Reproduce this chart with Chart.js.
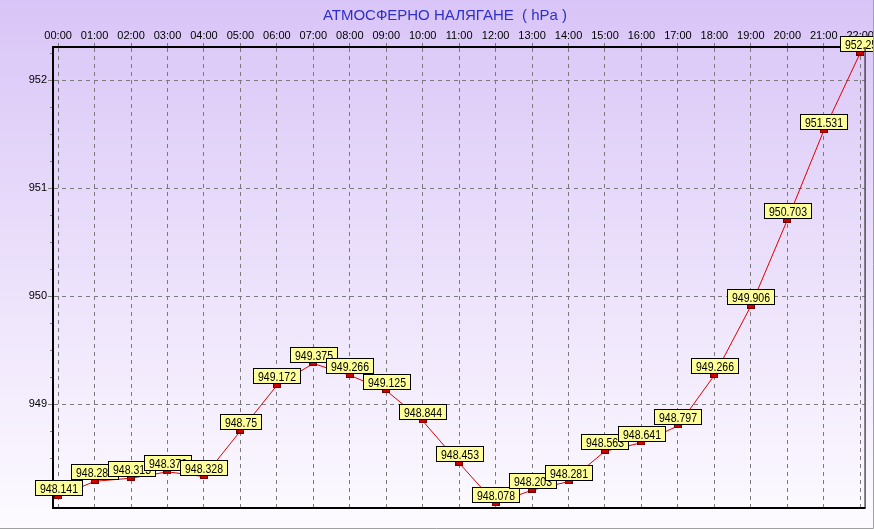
<!DOCTYPE html>
<html>
<head>
<meta charset="utf-8">
<script src="https://cdn.jsdelivr.net/npm/chart.js@4/dist/chart.umd.min.js"></script>
<style>
  html, body { margin: 0; padding: 0; background: #fff; }
  #c { display: block; }
</style>
</head>
<body>
<canvas id="c" width="874" height="529"></canvas>
<script>
// Атмосферно налягане по часове
const hours = ['00:00', '01:00', '02:00', '03:00', '04:00', '05:00', '06:00', '07:00',
  '08:00', '09:00', '10:00', '11:00', '12:00', '13:00', '14:00', '15:00', '16:00',
  '17:00', '18:00', '19:00', '20:00', '21:00', '22:00'];
const pressure = [948.141, 948.284, 948.313, 948.372, 948.328, 948.75, 949.172, 949.375,
  949.266, 949.125, 948.844, 948.453, 948.078, 948.203, 948.281, 948.563, 948.641,
  948.797, 949.266, 949.906, 950.703, 951.531, 952.25];
const yTicks = [949, 950, 951, 952];
const titleText = 'АТМОСФЕРНО НАЛЯГАНЕ  ( hPa )';

// маркер - малко червено правоъгълниче
const marker = document.createElement('canvas');
marker.width = 8; marker.height = 5;
(function () {
  const m = marker.getContext('2d');
  m.fillStyle = '#d40000';
  m.fillRect(0, 0, 8, 5);
  m.strokeStyle = '#700000';
  m.lineWidth = 1;
  m.strokeRect(0.5, 0.5, 7, 4);
})();

const decor = {
  id: 'decor',
  beforeDraw(chart) {
    const ctx = chart.ctx;
    const g = ctx.createLinearGradient(0, 0, 0, chart.height);
    g.addColorStop(0, '#d9c5f7');
    g.addColorStop(1, '#fdfbff');
    ctx.save();
    ctx.fillStyle = g;
    ctx.fillRect(0, 0, chart.width, chart.height);
    ctx.font = '15px Arial, "Liberation Sans", sans-serif';
    ctx.fillStyle = '#3030c8';
    ctx.textAlign = 'center';
    ctx.fillText(titleText, 445, 20);
    ctx.restore();
  },
  afterDraw(chart) {
    const ctx = chart.ctx, a = chart.chartArea, y = chart.scales.y;
    ctx.save();
    ctx.setLineDash([]);
    // дребни деления по оста Y
    ctx.strokeStyle = '#808080';
    ctx.lineWidth = 1;
    for (let v = 948.25; v < 952.3; v += 0.25) {
      if (Math.abs(v - Math.round(v)) < 0.01) continue;
      const py = Math.round(y.getPixelForValue(v)) + 0.5;
      ctx.beginPath(); ctx.moveTo(a.left - 3, py); ctx.lineTo(a.left - 1, py); ctx.stroke();
    }
    // дясна и долна рамка
    ctx.strokeStyle = '#000';
    ctx.lineWidth = 1;
    ctx.beginPath();
    ctx.moveTo(a.right + 0.5, a.top); ctx.lineTo(a.right + 0.5, a.bottom);
    ctx.stroke();
    ctx.lineWidth = 2;
    ctx.beginPath();
    ctx.moveTo(a.left - 1, a.bottom); ctx.lineTo(a.right + 1, a.bottom);
    ctx.stroke();
    // външна сива рамка
    ctx.strokeStyle = '#a0a0a0';
    ctx.lineWidth = 1;
    ctx.beginPath();
    ctx.moveTo(0, chart.height - 0.5); ctx.lineTo(chart.width - 0.5, chart.height - 0.5);
    ctx.lineTo(chart.width - 0.5, 0);
    ctx.stroke();
    ctx.restore();
  },
  afterDatasetsDraw(chart) {
    const ctx = chart.ctx;
    const pts = chart.getDatasetMeta(0).data;
    const sx = 0.81;
    ctx.save();
    ctx.setLineDash([]);
    ctx.font = '13px Arial, "Liberation Sans", sans-serif';
    ctx.textAlign = 'center';
    ctx.textBaseline = 'middle';
    pts.forEach((p, i) => {
      const txt = String(pressure[i]);
      const w = Math.round(ctx.measureText(txt).width * sx) + 9;
      const h = 15;
      const x0 = Math.round(p.x - w / 2) + 0.5;
      const y0 = Math.round(p.y - 2 - h) + 0.5;
      ctx.fillStyle = '#ffff99';
      ctx.fillRect(x0, y0, w, h);
      ctx.strokeStyle = '#000';
      ctx.lineWidth = 1;
      ctx.strokeRect(x0, y0, w, h);
      ctx.fillStyle = '#000';
      ctx.save();
      ctx.translate(x0 + w / 2, y0 + h / 2 + 1);
      ctx.scale(sx, 1);
      ctx.fillText(txt, 0, 0);
      ctx.restore();
    });
    ctx.restore();
  }
};

new Chart(document.getElementById('c'), {
  type: 'line',
  data: {
    datasets: [{
      data: pressure.map((v, i) => ({ x: i, y: v })),
      borderColor: '#e00000',
      borderWidth: 1,
      tension: 0,
      fill: false,
      pointStyle: marker,
      pointRadius: 4,
      pointHoverRadius: 4
    }]
  },
  options: {
    responsive: false,
    animation: false,
    events: [],
    layout: { padding: { top: 0, left: 0, right: 9, bottom: 21 } },
    plugins: { legend: { display: false }, title: { display: false }, tooltip: { enabled: false } },
    scales: {
      x: {
        type: 'linear',
        position: 'top',
        min: -0.14,
        max: 22.12,
        afterBuildTicks: s => { s.ticks = hours.map((h, i) => ({ value: i })); },
        afterFit: s => { s.height = 47; },
        ticks: {
          callback: v => hours[v],
          font: { family: 'Arial, "Liberation Sans", sans-serif', size: 11 },
          color: '#000',
          padding: 0,
          maxRotation: 0,
          autoSkip: false
        },
        grid: { color: '#7a7a7a', lineWidth: 1, tickLength: 4, tickBorderDash: [4, 4] },
        border: { display: true, color: '#000', width: 2, dash: [4, 4] }
      },
      y: {
        min: 948.037,
        max: 952.306,
        afterBuildTicks: s => { s.ticks = yTicks.map(v => ({ value: v })); },
        afterFit: s => { s.width = 53; },
        ticks: {
          font: { family: 'Arial, "Liberation Sans", sans-serif', size: 11 },
          color: '#000',
          padding: 1
        },
        grid: { color: '#7a7a7a', lineWidth: 1, tickLength: 5, tickBorderDash: [4, 4] },
        border: { display: true, color: '#000', width: 2, dash: [4, 4] }
      }
    }
  },
  plugins: [decor]
});
</script>
</body>
</html>
